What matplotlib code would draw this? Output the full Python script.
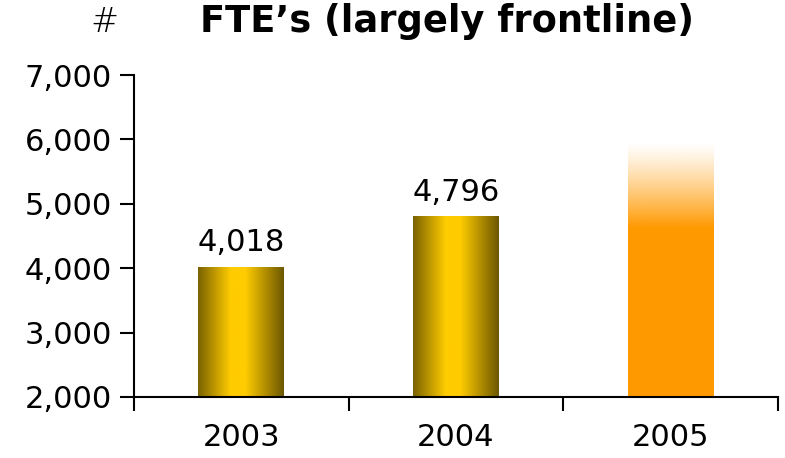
import numpy as np
import matplotlib.pyplot as plt
from matplotlib.colors import LinearSegmentedColormap

years = ["2003", "2004", "2005"]
fte = [4018, 4796, 4620]
labels = ["4,018", "4,796", None]
target_2005 = 5950          # faded top of the 2005 bar
y_ticks = [2000, 3000, 4000, 5000, 6000, 7000]

plt.rcParams["font.family"] = ["DejaVu Sans"]

fig = plt.figure(figsize=(7.85, 4.58), dpi=100)
ax = fig.add_axes([0.1707, 0.1332, 0.8203, 0.703])

x = np.arange(len(years))
bars = ax.bar(x, fte, width=0.4, color=["none", "none", "#FF9900"], zorder=2)

# metallic shading across the first two bars
gold = LinearSegmentedColormap.from_list(
    "gold", [(0.0, "#7a6200"), (0.38, "#ffcc00"), (0.55, "#ffcc00"), (1.0, "#6c5700")])
grad = np.linspace(0, 1, 256).reshape(1, -1)
for b in bars[:2]:
    ax.imshow(grad, cmap=gold, aspect="auto", zorder=2,
              extent=(b.get_x(), b.get_x() + b.get_width(), 2000, b.get_height()))

# fading cap on 2005
b = bars[2]
fade = np.zeros((256, 1, 4))
fade[..., 0] = 1.0
fade[..., 1] = 0.6
fade[..., 2] = 0.0
fade[:, 0, 3] = np.linspace(1, 0, 256) ** 1.2
ax.imshow(fade, aspect="auto", origin="lower", zorder=2,
          extent=(b.get_x(), b.get_x() + b.get_width(), b.get_height(), target_2005))

for b, lab in zip(bars, labels):
    if lab:
        ax.text(b.get_x() + b.get_width() / 2, b.get_height() + 150, lab,
                ha="center", va="bottom", fontsize=22)

ax.set_xlim(-0.5, 2.5)
ax.set_ylim(2000, 7000)
ax.set_yticks(y_ticks)
ax.set_yticklabels([f"{v:,}" for v in y_ticks], fontsize=22)
ax.tick_params(axis="y", direction="out", length=10, width=1.5, pad=6)

ax.set_xticks([-0.5, 0.5, 1.5, 2.5])
ax.set_xticklabels([])
ax.tick_params(axis="x", which="major", direction="out", length=10, width=1.5)
ax.set_xticks(x, minor=True)
ax.set_xticklabels(years, minor=True, fontsize=22)
ax.tick_params(axis="x", which="minor", length=0, pad=19)

for s in ["top", "right"]:
    ax.spines[s].set_visible(False)
for s in ["left", "bottom"]:
    ax.spines[s].set_linewidth(1.5)
ax.spines["bottom"].set_zorder(3)

fig.text(0.133, 0.95, "#", ha="center", va="center", fontsize=24, fontweight="light")
fig.text(0.57, 0.952, "FTE\u2019s (largely frontline)", ha="center", va="center",
         fontsize=26.5, fontweight="bold")

fig.savefig("out.png", dpi=100)
